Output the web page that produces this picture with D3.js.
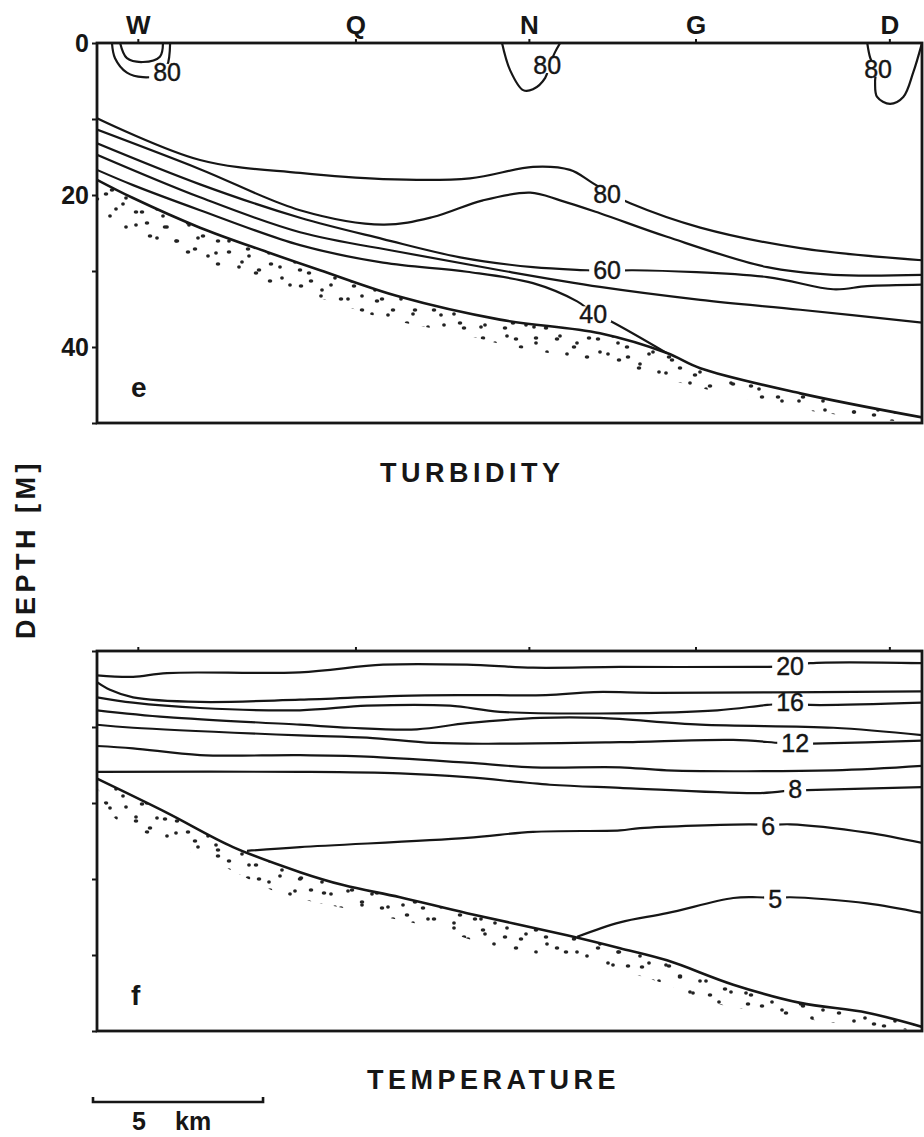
<!DOCTYPE html>
<html>
<head>
<meta charset="utf-8">
<script src="https://cdn.jsdelivr.net/npm/d3@7"></script>
<style>
body { margin: 0; background: #fff; }
text { font-family: Arial, "Liberation Sans", Helvetica, sans-serif; fill: #161616; }
</style>
</head>
<body>
<div id="chart"></div>
<script>
// stations along the section (km from the left end of the section)
const stationNames = ["W", "Q", "N", "G", "D"];
const stationKm = [1.2, 7.6, 12.7, 17.6, 23.3];
const sectionKm = 24.26;
const depthTicks = [0, 10, 20, 30, 40, 50];
const depthLabels = [0, 20, 40];

// ---- turbidity section (e): [km, depth m]
const turbUpper80 = [[0,9.9],[3.03,15.4],[5.97,17.1],[8.41,17.9],[10.97,17.8],[12.82,16.3],[13.91,16.7],[14.5,18.2],[15.0,19.6],[15.68,21.1],[17.74,24.3],[20.68,27.0],[24.3,28.6]];
const turbLower80 = [[0,11.4],[3.03,16.6],[5.97,22.0],[8.41,23.9],[9.88,22.9],[11.35,20.7],[12.74,19.7],[13.62,20.7],[14.79,22.4],[16.76,25.5],[19.71,29.5],[21.65,30.5],[24.3,30.5]];
const turb60 = [[0,13.2],[3.03,18.6],[5.97,23.0],[8.41,25.8],[10.68,28.2],[12.82,29.5],[14.41,29.9],[15.0,30.0],[15.76,29.9],[19.71,30.8],[21.65,32.4],[22.65,32.0],[24.3,31.8]];
const turb50 = [[0,14.7],[3.03,20.3],[5.97,24.9],[8.91,27.5],[11.85,29.9],[14.79,32.1],[17.74,33.8],[20.68,35.1],[24.3,36.8]];
const turb40 = [[0,16.7],[1.06,18.7],[3.03,22.0],[5.97,26.6],[8.41,28.9],[10.88,30.1],[12.82,31.6],[14.12,34.0],[14.59,35.5],[15.15,36.7],[16.76,40.8]];
const turbW80inner = [[0.68,0],[0.88,2.0],[1.35,2.5],[1.85,1.8],[1.94,0]];
const turbW80outer = [[0.44,0],[0.53,2.0],[0.88,3.9],[1.35,4.5],[1.8,4.2],[2.06,3.0],[2.15,0]];
const turbN80 = [[11.91,0],[12.15,3.6],[12.53,6.2],[12.82,6.1],[13.18,4.6],[13.3,2.9],[13.47,1.2],[13.62,0]];
const turbD80 = [[22.65,0],[22.74,2.0],[22.9,3.6],[22.88,5.1],[22.94,7.1],[23.32,8.0],[23.71,7.1],[24.0,3.9],[24.26,0]];
const turbSeabed = [[0,18.0],[1.06,20.4],[3.03,24.3],[5.0,27.5],[6.56,29.9],[8.91,33.4],[11.85,36.4],[14.79,38.2],[16.76,40.8],[17.74,42.8],[20.68,46.1],[24.3,49.3]];
const turbSedimentBase = [[0,21.3],[0.38,23.6],[2.35,27.5],[5.18,31.8],[6.94,34.1],[8.41,36.2],[10.59,38.2],[12.35,40.1],[15.0,42.1],[17.06,44.6],[19.71,47.4],[22.44,49.3],[24.3,50]];
const turbLabelText = ["80", "80", "80", "80", "60", "40"];
const turbLabelKm = [2.06, 13.24, 22.97, 15.0, 15.0, 14.59];
const turbLabelDepth = [3.8, 2.9, 3.4, 19.9, 29.9, 35.7];

// ---- temperature section (f): [km, depth m]
const temp20 = [[0,3.2],[1.06,3.4],[2.06,2.9],[5.97,2.8],[8.41,1.8],[10.88,1.8],[12.82,2.2],[15.38,2.1],[19.41,2.1],[20.38,2.0],[20.97,1.6],[24.3,1.6]];
const temp18 = [[0,4.1],[0.38,5.1],[1.06,6.1],[3.03,6.7],[5.97,6.4],[8.91,5.9],[10.88,5.8],[13.2,5.8],[14.6,5.4],[16.56,5.5],[24.3,5.3]];
const temp16 = [[0,6.1],[1.06,6.8],[3.03,7.5],[5.97,7.8],[7.94,7.2],[10.38,7.2],[11.85,8.0],[15.38,8.2],[18.24,7.8],[19.71,7.1],[20.38,6.9],[20.97,7.1],[24.3,6.8]];
const temp14 = [[0,7.8],[2.06,8.7],[5.97,9.7],[7.44,10.1],[9.41,10.3],[10.88,9.5],[13.03,8.8],[14.79,8.8],[17.74,9.7],[21.65,10.1],[24.3,11.1]];
const temp12 = [[0,9.7],[1.06,10.1],[5.97,11.1],[7.94,11.4],[9.88,12.1],[11.85,12.2],[15.38,12.0],[18.71,11.7],[20.09,12.1],[20.53,12.2],[21.03,12.2],[24.3,11.8]];
const temp10 = [[0,12.5],[1.06,12.8],[3.03,13.7],[5.97,13.7],[7.94,13.9],[10.88,14.7],[12.82,15.3],[15.38,15.3],[16.76,15.7],[21.65,15.7],[24.3,15.1]];
const temp8 = [[0,15.9],[5.97,15.9],[8.91,16.1],[10.88,16.6],[13.32,17.6],[15.38,18.0],[19.5,18.7],[20.53,18.3],[20.88,18.3],[24.3,17.9]];
const temp6 = [[4.41,26.3],[5.97,25.8],[10.88,24.6],[12.82,23.8],[15.38,23.6],[15.97,23.3],[19.21,22.8],[19.74,22.9],[20.38,22.8],[22.65,23.9],[24.3,25.3]];
const temp5 = [[14.12,37.6],[15.38,35.7],[16.76,34.5],[18.71,32.5],[19.41,32.4],[19.94,32.5],[20.38,32.4],[22.65,33.2],[24.3,34.5]];
const tempSeabed = [[0,16.8],[2.06,21.3],[4.0,25.8],[5.97,29.1],[7.24,30.8],[8.91,32.4],[10.88,34.5],[13.82,37.4],[15.38,39.1],[16.76,40.7],[18.71,43.9],[20.68,46.3],[22.65,47.6],[24.3,49.5]];
const tempSedimentBase = [[0,17.6],[0.47,21.8],[2.06,25.1],[3.82,28.6],[5.29,31.7],[7.53,34.1],[9.79,36.3],[11.56,38.7],[13.53,40.3],[15.38,42.0],[16.94,44.2],[17.74,45.9],[19.71,47.6],[21.65,48.9],[24.3,50]];
const tempLabelText = ["20", "16", "12", "8", "6", "5"];
const tempLabelKm = [20.38, 20.38, 20.53, 20.53, 19.74, 19.94];
const tempLabelDepth = [2.0, 6.7, 12.2, 18.2, 23.0, 32.6];

const width = 924, height = 1137;
const frameLeft = 97, frameRight = 922, panelH = 380;

const svg = d3.select("#chart").append("svg")
    .attr("width", width)
    .attr("height", height);

const defs = svg.append("defs");

// stipple for the sediment band: two tiles of different size laid over each other
// so the dots do not line up in rows
function sandPattern(id, w, h, dots) {
    var pat = defs.append("pattern")
        .attr("id", id)
        .attr("patternUnits", "userSpaceOnUse")
        .attr("width", w).attr("height", h);
    dots.forEach(function(p, i) {
        pat.append("ellipse").attr("cx", p[0]).attr("cy", p[1])
            .attr("rx", i % 2 == 0 ? 2.3 : 1.9).attr("ry", 1.7).attr("fill", "#222");
    });
}
sandPattern("sandA", 53, 37, [[6,5],[30,3],[44,14],[17,19],[36,27],[4,31]]);
sandPattern("sandB", 41, 29, [[13,9],[34,6],[24,20],[3,24]]);

const x = d3.scaleLinear().domain([0, sectionKm]).range([frameLeft, frameRight]);

const panels = [
    {id: "turb", top: 43, letter: "e", depthText: true, stationText: true,
     lines: [turbUpper80, turbLower80, turb60, turb50, turb40, turbW80inner, turbW80outer, turbN80, turbD80],
     seabed: turbSeabed, base: turbSedimentBase,
     labels: {text: turbLabelText, km: turbLabelKm, depth: turbLabelDepth},
     title: "TURBIDITY", titleX: 380, titleY: 482},
    {id: "temp", top: 651, letter: "f", depthText: false, stationText: false,
     lines: [temp20, temp18, temp16, temp14, temp12, temp10, temp8, temp6, temp5],
     seabed: tempSeabed, base: tempSedimentBase,
     labels: {text: tempLabelText, km: tempLabelKm, depth: tempLabelDepth},
     title: "TEMPERATURE", titleX: 367, titleY: 1089}
];

panels.forEach(drawPanel);

function drawPanel(p) {
    var y = d3.scaleLinear().domain([0, 50]).range([p.top, p.top + panelH]);
    var line = d3.line()
        .x(function(d) { return x(d[0]); })
        .y(function(d) { return y(d[1]); })
        .curve(d3.curveCatmullRom.alpha(0.5));

    defs.append("clipPath").attr("id", "clip-" + p.id)
        .append("rect")
        .attr("x", frameLeft).attr("y", p.top)
        .attr("width", frameRight - frameLeft).attr("height", panelH);

    var g = svg.append("g");
    var inner = g.append("g").attr("clip-path", "url(#clip-" + p.id + ")");

    // sediment band
    var upper = line(p.seabed);
    var lower = line(p.base.slice().reverse()).replace(/^M/, "L");
    ["sandA", "sandB"].forEach(function(pid) {
        inner.append("path")
            .attr("d", upper + lower + "Z")
            .attr("fill", "url(#" + pid + ")");
    });

    // contour labels first, so their boxes can cut the lines
    var labels = g.append("g");
    var labelNodes = labels.selectAll("text")
        .data(p.labels.text)
        .enter()
        .append("text")
        .attr("x", function(d, i) { return x(p.labels.km[i]); })
        .attr("y", function(d, i) { return y(p.labels.depth[i]); })
        .attr("dy", "0.35em")
        .attr("text-anchor", "middle")
        .style("font-size", "25px")
        .style("stroke", "#161616")
        .style("stroke-width", 0.4)
        .text(function(d) { return d; });

    var mask = defs.append("mask").attr("id", "mask-" + p.id)
        .attr("maskUnits", "userSpaceOnUse")
        .attr("x", 0).attr("y", 0).attr("width", width).attr("height", height);
    mask.append("rect").attr("x", 0).attr("y", 0)
        .attr("width", width).attr("height", height).attr("fill", "#fff");
    labelNodes.each(function(d, i) {
        var bb = this.getBBox();
        mask.append("rect")
            .attr("x", bb.x - 4).attr("width", bb.width + 8)
            .attr("y", y(p.labels.depth[i]) - 8).attr("height", 16)
            .attr("fill", "#000");
    });

    var lines = inner.append("g").attr("mask", "url(#mask-" + p.id + ")");
    lines.selectAll(".contour")
        .data(p.lines)
        .enter()
        .append("path")
        .attr("class", "contour")
        .attr("d", line)
        .attr("fill", "none")
        .attr("stroke", "#161616")
        .attr("stroke-width", 2.2)
        .attr("stroke-linejoin", "round");

    inner.append("path")
        .attr("d", line(p.seabed))
        .attr("fill", "none")
        .attr("stroke", "#161616")
        .attr("stroke-width", 2.6);

    // frame
    g.append("rect")
        .attr("x", frameLeft).attr("y", p.top)
        .attr("width", frameRight - frameLeft).attr("height", panelH)
        .attr("fill", "none")
        .attr("stroke", "#161616")
        .attr("stroke-width", 2.8);

    // depth axis
    var left = d3.axisLeft(y)
        .tickValues(depthTicks)
        .tickSize(5)
        .tickPadding(3)
        .tickFormat(function(d) { return (p.depthText && depthLabels.indexOf(d) >= 0) ? d : ""; });
    var la = g.append("g").attr("transform", "translate(" + frameLeft + ",0)").call(left);
    la.select(".domain").remove();
    la.selectAll("line").attr("stroke", "#161616").attr("stroke-width", 2);
    la.selectAll("text")
        .style("font-size", "25px").style("font-weight", "bold")
        .attr("fill", "#161616")
        .attr("font-family", null);

    // station axis
    var topAx = d3.axisTop(x)
        .tickValues(stationKm)
        .tickSize(4)
        .tickPadding(5)
        .tickFormat(function(d, i) { return p.stationText ? stationNames[i] : ""; });
    var ta = g.append("g").attr("transform", "translate(0," + p.top + ")").call(topAx);
    ta.select(".domain").remove();
    ta.selectAll("line").attr("stroke", "#161616").attr("stroke-width", 2);
    ta.selectAll("text")
        .style("font-size", "26px").style("font-weight", "bold")
        .attr("fill", "#161616")
        .attr("font-family", null);

    // panel letter
    g.append("text")
        .attr("x", x(1.0)).attr("y", p.top + 354)
        .style("font-size", "28px").style("font-weight", "bold")
        .text(p.letter);

    // title under the panel
    svg.append("text")
        .attr("x", p.titleX).attr("y", p.titleY)
        .style("font-size", "27px").style("font-weight", "bold")
        .style("letter-spacing", "4.5px")
        .text(p.title);
}

// vertical axis title
svg.append("text")
    .attr("transform", "translate(35,549) rotate(-90)")
    .attr("text-anchor", "middle")
    .style("font-size", "27px").style("font-weight", "bold")
    .style("letter-spacing", "4.5px")
    .text("DEPTH [M]");

// 5 km scale bar
const barLen = x(5) - x(0);
const barX = frameLeft - 4, barY = 1102;
svg.append("path")
    .attr("d", "M" + barX + "," + (barY - 5) + "V" + barY + "H" + (barX + barLen) + "V" + (barY - 5))
    .attr("fill", "none")
    .attr("stroke", "#161616")
    .attr("stroke-width", 2.6);
svg.append("text")
    .attr("x", barX + 39).attr("y", 1130)
    .style("font-size", "25px").style("font-weight", "bold")
    .text("5");
svg.append("text")
    .attr("x", barX + 82).attr("y", 1130)
    .style("font-size", "25px").style("font-weight", "bold")
    .text("km");
</script>
</body>
</html>
